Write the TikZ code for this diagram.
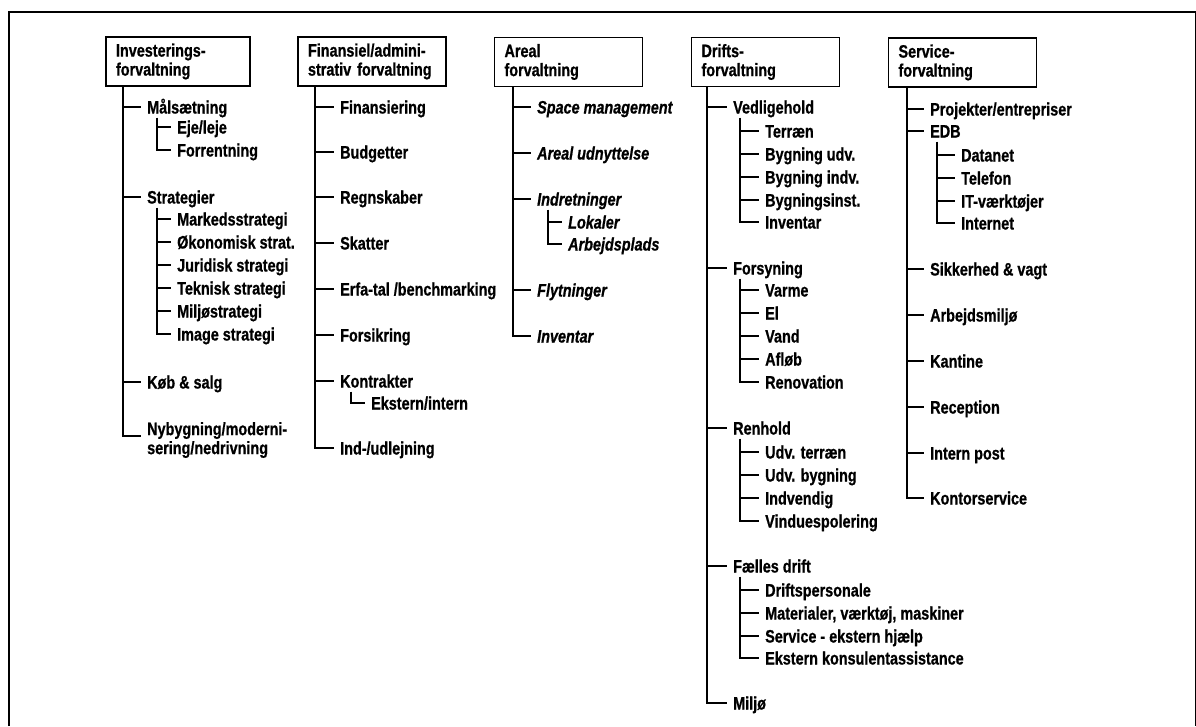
\documentclass[tikz,border=0pt]{standalone}
\usepackage{fontspec}
\setmainfont{Liberation Sans}[FakeStretch=0.8, FakeBold=0.8]
\usetikzlibrary{positioning}
\tikzstyle{box} = [rectangle, draw=black, line width=1.8pt, align=left, font=\fontsize{18}{19}\selectfont\bfseries, text width=128pt, inner xsep=10pt, minimum height=49pt]
\tikzstyle{it} = [anchor=west, inner xsep=6pt, inner ysep=0pt, text height=13pt, text depth=0pt, font=\fontsize{18}{19}\selectfont\bfseries]
\tikzstyle{ia} = [it, font=\fontsize{18}{19}\selectfont\bfseries\itshape]
\tikzstyle{it2} = [anchor=west, inner xsep=6pt, inner ysep=0pt, align=left, font=\fontsize{18}{19}\selectfont\bfseries]
\tikzstyle{ln} = [black, line width=2pt]

\begin{document}
\begin{tikzpicture}[x=1pt,y=-1pt]
		\useasboundingbox (0,0) rectangle (1196,726);
		\draw[line width=2.6pt] (9,726) -- (9,12) -- (1196,12);
		\draw[line width=0.8pt] (1195,12) -- (1195,726);

		\node[box, text width=124pt] (B1) at (178,61.5) {Investerings-\\forvaltning};
		\node[box] (B2) at (372,61.5) {Finansiel/admini-\\strativ forvaltning};
		\node[box] (B3) at (568.5,62) {Areal\\forvaltning};
		\node[box] (B4) at (765.5,62) {Drifts-\\forvaltning};
		\node[box] (B5) at (962.5,62.5) {Service-\\forvaltning};

		\begin{scope}[every node/.style={it}]
			\node (I1) at (141,107) {Målsætning};
			\node (I11) at (171,127) {Eje/leje};
			\node (I12) at (171,150) {Forrentning};
			\node (I2) at (141,197) {Strategier};
			\node (I21) at (171,219) {Markedsstrategi};
			\node (I22) at (171,242) {Økonomisk strat.};
			\node (I23) at (171,265) {Juridisk strategi};
			\node (I24) at (171,288) {Teknisk strategi};
			\node (I25) at (171,311) {Miljøstrategi};
			\node (I26) at (171,334) {Image strategi};
			\node (I3) at (141,382) {Køb \& salg};

			\node (F1) at (334,107) {Finansiering};
			\node (F2) at (334,152) {Budgetter};
			\node (F3) at (334,197) {Regnskaber};
			\node (F4) at (334,243) {Skatter};
			\node (F5) at (334,289) {Erfa-tal /benchmarking};
			\node (F6) at (334,335) {Forsikring};
			\node (F7) at (334,381) {Kontrakter};
			\node (F71) at (365,403) {Ekstern/intern};
			\node (F8) at (334,448) {Ind-/udlejning};

			\node[ia] (A1) at (531,107) {Space management};
			\node[ia] (A2) at (531,153) {Areal udnyttelse};
			\node[ia] (A3) at (531,199) {Indretninger};
			\node[ia] (A31) at (562,222) {Lokaler};
			\node[ia] (A32) at (562,244) {Arbejdsplads};
			\node[ia] (A4) at (531,290) {Flytninger};
			\node[ia] (A5) at (531,336) {Inventar};

			\node (D1) at (727,107) {Vedligehold};
			\node (D11) at (759,131) {Terræn};
			\node (D12) at (759,154) {Bygning udv.};
			\node (D13) at (759,177) {Bygning indv.};
			\node (D14) at (759,200) {Bygningsinst.};
			\node (D15) at (759,222) {Inventar};
			\node (D2) at (727,268) {Forsyning};
			\node (D21) at (759,290) {Varme};
			\node (D22) at (759,313) {El};
			\node (D23) at (759,336) {Vand};
			\node (D24) at (759,359) {Afløb};
			\node (D25) at (759,382) {Renovation};
			\node (D3) at (727,428) {Renhold};
			\node (D31) at (759,452) {Udv. terræn};
			\node (D32) at (759,475) {Udv. bygning};
			\node (D33) at (759,498) {Indvendig};
			\node (D34) at (759,521) {Vinduespolering};
			\node (D4) at (727,566) {Fælles drift};
			\node (D41) at (759,590) {Driftspersonale};
			\node (D42) at (759,613) {Materialer, værktøj, maskiner};
			\node (D43) at (759,636) {Service - ekstern hjælp};
			\node (D44) at (759,658) {Ekstern konsulentassistance};
			\node (D5) at (727,703) {Miljø};

			\node (S1) at (924,109) {Projekter/entrepriser};
			\node (S2) at (924,131) {EDB};
			\node (S21) at (955,155) {Datanet};
			\node (S22) at (955,178) {Telefon};
			\node (S23) at (955,201) {IT-værktøjer};
			\node (S24) at (955,223) {Internet};
			\node (S3) at (924,269) {Sikkerhed \& vagt};
			\node (S4) at (924,315) {Arbejdsmiljø};
			\node (S5) at (924,361) {Kantine};
			\node (S6) at (924,407) {Reception};
			\node (S7) at (924,453) {Intern post};
			\node (S8) at (924,498) {Kontorservice};
		\end{scope}
		\node[it2] (I4) at (141,440) {Nybygning/moderni-\\sering/nedrivning};

		\begin{scope}[ln]
			\coordinate (t1) at ([xshift=18pt]B1.south west);
			\draw (t1) |- ([yshift=4pt]I4.west);
			\draw (I1.west -| t1) -- (I1.west);
			\draw (I2.west -| t1) -- (I2.west);
			\draw (I3.west -| t1) -- (I3.west);
			\coordinate (i1) at ([xshift=16pt,yshift=-4pt]I1.south west);
			\draw (i1) |- (I12.west);
			\draw (I11.west -| i1) -- (I11.west);
			\coordinate (i2) at ([xshift=16pt,yshift=-4pt]I2.south west);
			\draw (i2) |- (I26.west);
			\draw (I21.west -| i2) -- (I21.west);
			\draw (I22.west -| i2) -- (I22.west);
			\draw (I23.west -| i2) -- (I23.west);
			\draw (I24.west -| i2) -- (I24.west);
			\draw (I25.west -| i2) -- (I25.west);

			\coordinate (t2) at ([xshift=18pt]B2.south west);
			\draw (t2) |- (F8.west);
			\draw (F1.west -| t2) -- (F1.west);
			\draw (F2.west -| t2) -- (F2.west);
			\draw (F3.west -| t2) -- (F3.west);
			\draw (F4.west -| t2) -- (F4.west);
			\draw (F5.west -| t2) -- (F5.west);
			\draw (F6.west -| t2) -- (F6.west);
			\draw (F7.west -| t2) -- (F7.west);
			\coordinate (f7) at ([xshift=17pt,yshift=-4pt]F7.south west);
			\draw (f7) |- (F71.west);

			\coordinate (t3) at ([xshift=19pt]B3.south west);
			\draw (t3) |- (A5.west);
			\draw (A1.west -| t3) -- (A1.west);
			\draw (A2.west -| t3) -- (A2.west);
			\draw (A3.west -| t3) -- (A3.west);
			\draw (A4.west -| t3) -- (A4.west);
			\coordinate (a3) at ([xshift=17pt,yshift=-4pt]A3.south west);
			\draw (a3) |- (A32.west);
			\draw (A31.west -| a3) -- (A31.west);

			\coordinate (t4) at ([xshift=16pt]B4.south west);
			\draw (t4) |- (D5.west);
			\draw (D1.west -| t4) -- (D1.west);
			\draw (D2.west -| t4) -- (D2.west);
			\draw (D3.west -| t4) -- (D3.west);
			\draw (D4.west -| t4) -- (D4.west);
			\coordinate (d1) at ([xshift=13pt,yshift=-4pt]D1.south west);
			\draw (d1) |- (D15.west);
			\draw (D11.west -| d1) -- (D11.west);
			\draw (D12.west -| d1) -- (D12.west);
			\draw (D13.west -| d1) -- (D13.west);
			\draw (D14.west -| d1) -- (D14.west);
			\coordinate (d2) at ([xshift=13pt,yshift=-4pt]D2.south west);
			\draw (d2) |- (D25.west);
			\draw (D21.west -| d2) -- (D21.west);
			\draw (D22.west -| d2) -- (D22.west);
			\draw (D23.west -| d2) -- (D23.west);
			\draw (D24.west -| d2) -- (D24.west);
			\coordinate (d3) at ([xshift=13pt,yshift=-4pt]D3.south west);
			\draw (d3) |- (D34.west);
			\draw (D31.west -| d3) -- (D31.west);
			\draw (D32.west -| d3) -- (D32.west);
			\draw (D33.west -| d3) -- (D33.west);
			\coordinate (d4) at ([xshift=13pt,yshift=-4pt]D4.south west);
			\draw (d4) |- (D44.west);
			\draw (D41.west -| d4) -- (D41.west);
			\draw (D42.west -| d4) -- (D42.west);
			\draw (D43.west -| d4) -- (D43.west);

			\coordinate (t5) at ([xshift=19pt]B5.south west);
			\draw (t5) |- (S8.west);
			\draw (S1.west -| t5) -- (S1.west);
			\draw (S2.west -| t5) -- (S2.west);
			\draw (S3.west -| t5) -- (S3.west);
			\draw (S4.west -| t5) -- (S4.west);
			\draw (S5.west -| t5) -- (S5.west);
			\draw (S6.west -| t5) -- (S6.west);
			\draw (S7.west -| t5) -- (S7.west);
			\coordinate (s2) at ([xshift=13pt,yshift=-4pt]S2.south west);
			\draw (s2) |- (S24.west);
			\draw (S21.west -| s2) -- (S21.west);
			\draw (S22.west -| s2) -- (S22.west);
			\draw (S23.west -| s2) -- (S23.west);
		\end{scope}
	\end{tikzpicture}
\end{document}
